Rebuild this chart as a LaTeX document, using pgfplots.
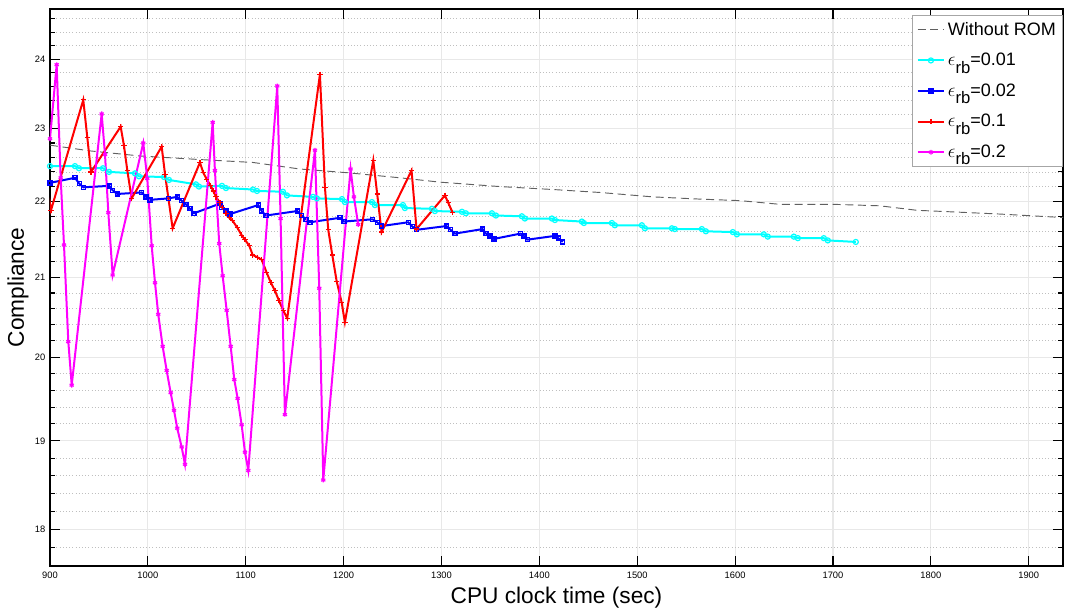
\documentclass[border=0pt]{standalone}
\usepackage{fontspec}
\setmainfont{Liberation Sans}
\usepackage{pgfplots}
\pgfplotsset{compat=1.18}
\definecolor{mcyan}{RGB}{0,255,255}
\definecolor{mblue}{RGB}{0,0,255}
\definecolor{mred}{RGB}{255,0,0}
\definecolor{mmag}{RGB}{255,0,255}
\newcommand{\erb}{$\epsilon$\raisebox{-0.42em}{\fontsize{12.5}{12.5}\selectfont rb}}
\begin{document}
\begin{tikzpicture}
\begin{axis}[
  at={(0,0)}, anchor=south west,
  scale only axis, width=759.75pt, height=417.75pt,
  xmin=900, xmax=1935,
  ymode=log, ymin=17.6, ymax=24.75,
  xtick={900,1000,...,1900},
  ytick={18,19,20,21,22,23,24},
  yticklabels={18,19,20,21,22,23,24},
  minor ytick={17.8,18.2,18.4,18.6,18.8,19.2,19.4,19.6,19.8,20.2,20.4,20.6,20.8,21.2,21.4,21.6,21.8,22.2,22.4,22.6,22.8,23.2,23.4,23.6,23.8,24.2,24.4,24.6},
  /pgf/number format/assume math mode=true,
  /pgf/number format/1000 sep={},
  ticklabel style={font=\fontsize{7}{8}\selectfont},
  xticklabel style={yshift=-1pt},
  major tick length=7.5pt, minor tick length=3.75pt,
  tick style={black, line width=0.8pt},
  axis line style={line width=1.2pt},
  grid=both,
  major grid style={gray!18, line width=0.9pt},
  minor grid style={gray!50, dotted, line width=0.6pt},
  xlabel={CPU clock time (sec)}, ylabel={Compliance},
  label style={font=\fontsize{17}{20}\selectfont},
  xlabel style={at={(axis description cs:0.5,-0.0575)}, anchor=center},
  ylabel style={at={(axis description cs:-0.0316,0.5)}, anchor=center},
  legend style={at={(1,0.989)}, anchor=north east, draw=gray!70, line width=0.6pt,
    font=\fontsize{13.5}{15}\selectfont, inner xsep=3pt, inner ysep=3pt, row sep=8pt},
  legend cell align=left,
  legend image code/.code={\draw[mark repeat=2,mark phase=2] plot coordinates {(0pt,0pt) (10pt,0pt) (20pt,0pt)};},
]
\addplot[gray!75!black, line width=0.7pt, dash pattern=on 6pt off 3.5pt] coordinates {
(900,22.77) (940.9,22.69) (991.9,22.62) (1053.2,22.57) (1107.4,22.53) (1155.4,22.44)
(1203.4,22.39) (1257.5,22.32) (1298.4,22.26) (1359.7,22.20) (1413.8,22.16) (1461.8,22.12)
(1516.0,22.06) (1564.0,22.03) (1604.8,22.01) (1645.7,21.96) (1699.8,21.96) (1747.8,21.94)
(1785.6,21.88) (1836.7,21.85) (1870.4,21.83) (1940,21.78)};
\addlegendentry{Without ROM}
\addplot[mcyan, line width=1.5pt, mark=o, mark size=1.9pt, mark options={line width=0.9pt}] coordinates {
(900,22.48) (925.5,22.48) (929.6,22.45) (954.1,22.45) (960.3,22.40) (986.8,22.38) (990.9,22.34)
(1016.5,22.33) (1021.6,22.29) (1049.1,22.23) (1052.2,22.20) (1075.7,22.21) (1079.8,22.18)
(1107.4,22.16) (1111.5,22.14) (1138.0,22.13) (1142.1,22.08) (1168.7,22.06) (1172.7,22.04)
(1198.3,22.03) (1201.3,21.99) (1228.9,21.99) (1232.0,21.95) (1260.6,21.95) (1262.6,21.91)
(1290.2,21.90) (1293.3,21.87) (1320.9,21.86) (1324.9,21.84) (1351.5,21.84) (1355.6,21.81)
(1382.1,21.80) (1385.2,21.77) (1412.8,21.77) (1415.9,21.75) (1443.4,21.73) (1445.5,21.71)
(1474.1,21.71) (1477.1,21.68) (1504.7,21.68) (1507.8,21.64) (1535.4,21.64) (1538.4,21.63)
(1566.0,21.63) (1570.1,21.60) (1597.7,21.59) (1601.8,21.56) (1629.3,21.56) (1633.4,21.53)
(1660.0,21.53) (1664.1,21.51) (1690.6,21.51) (1694.7,21.48) (1723.3,21.46)};
\addlegendentry{\erb=0.01}
\addplot[mblue, line width=1.5pt, mark=square, mark size=1.5pt, mark options={line width=1pt}] coordinates {
(900,22.25) (925.5,22.32) (929.9,22.24) (934.0,22.19) (960.6,22.21) (964.0,22.15) (968.7,22.10)
(993.7,22.12) (998.1,22.06) (1002.2,22.02) (1020.8,22.04) (1030.0,22.06) (1034.5,22.01)
(1038.9,21.96) (1043.0,21.90) (1047.1,21.84) (1073.7,21.97) (1075.4,21.92) (1079.8,21.87)
(1083.9,21.83) (1112.8,21.95) (1116.3,21.87) (1120.6,21.81) (1152.6,21.87) (1157.1,21.81)
(1161.5,21.76) (1165.6,21.72) (1196.2,21.78) (1200.3,21.73) (1229.6,21.76) (1234.3,21.72)
(1238.8,21.67) (1266.0,21.72) (1270.5,21.66) (1274.5,21.62) (1305.2,21.67) (1309.3,21.62)
(1313.7,21.57) (1342.0,21.63) (1345.4,21.57) (1349.5,21.54) (1353.5,21.50) (1380.8,21.57)
(1384.2,21.54) (1387.6,21.49) (1415.9,21.54) (1419.3,21.51) (1423.8,21.46)};
\addlegendentry{\erb=0.02}
\addplot[mred, line width=1.5pt, mark=+, mark size=2pt, mark options={line width=0.9pt}] coordinates {
(899,22.05) (901,21.88) (934.0,23.41) (938.1,22.88) (941.9,22.40) (972.2,23.03) (975.6,22.76)
(979.0,22.42) (983.4,22.04) (1014.1,22.75) (1017.5,22.37) (1025.3,21.64) (1053.2,22.53)
(1056.6,22.39) (1060.1,22.30) (1064.2,22.21) (1066.8,22.14) (1069.6,22.06) (1073.7,21.98)
(1076.4,21.92) (1079.8,21.84) (1083.2,21.78) (1086.6,21.74) (1091.3,21.65) (1095.8,21.55)
(1099.2,21.49) (1103.6,21.41) (1107.1,21.29) (1111.8,21.26) (1116.2,21.23) (1121.4,21.06)
(1125.7,20.93) (1129.8,20.83) (1134.0,20.70) (1138.3,20.58) (1142.4,20.48) (1175.8,23.78)
(1180.9,22.19) (1184.3,21.62) (1188.4,21.29) (1192.9,20.95) (1198.0,20.68) (1201.3,20.43)
(1230.3,22.56) (1234.3,22.10) (1238.8,21.59) (1269.4,22.42) (1274.5,21.63) (1303.5,22.08)
(1306.9,21.98) (1311.3,21.85)};
\addlegendentry{\erb=0.1}
\addplot[mmag, line width=1.5pt, mark=asterisk, mark size=1.8pt, mark options={line width=0.9pt}] coordinates {
(900,22.86) (906.8,23.92) (910.9,22.32) (914.3,21.42) (918.7,20.19) (922.2,19.66) (952.8,23.21)
(956.2,22.64) (959.6,21.85) (964.0,21.03) (995.3,22.80) (999.4,22.31) (1003.9,21.41)
(1007.3,20.93) (1010.6,20.53) (1015.1,20.13) (1019.2,19.84) (1023.3,19.57) (1026.7,19.36)
(1030.0,19.15) (1034.5,18.93) (1037.9,18.73) (1066.2,23.09) (1068.5,22.42) (1072.9,21.44)
(1076.4,21.02) (1080.5,20.58) (1084.6,20.13) (1088.3,19.73) (1091.7,19.50) (1095.8,19.19)
(1099.2,18.87) (1102.6,18.66) (1132.2,23.61) (1135.6,21.77) (1140.0,19.31) (1170.7,22.70)
(1175.1,20.86) (1179.2,18.55) (1207.1,22.44) (1210.5,22.06) (1214.9,21.69)};
\addlegendentry{\erb=0.2}
\end{axis}
\pgfresetboundingbox
\path[use as bounding box] (-37.5pt,-35.25pt) rectangle (761.25pt,424.5pt);
\end{tikzpicture}
\end{document}
